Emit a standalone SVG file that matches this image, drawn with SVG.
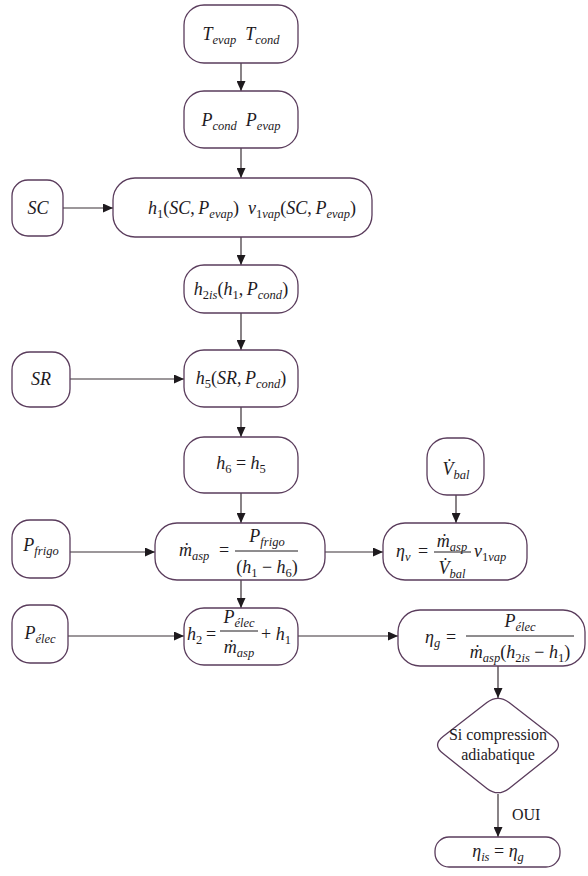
<svg xmlns="http://www.w3.org/2000/svg" width="588" height="876" viewBox="0 0 588 876">
<style>
.n{fill:#fff;stroke:#5a3c5c;stroke-width:1.3}
.t{font-family:'Liberation Serif','Times New Roman',Times,'DejaVu Serif','Noto Serif',serif;font-style:italic;font-size:18px;fill:#1e1a1e}
.s{font-size:12.5px}
.u{font-style:normal}
.r{font-family:'Liberation Serif','Times New Roman',Times,'DejaVu Serif','Noto Serif',serif;font-size:16px;fill:#1e1a1e}
.c{fill:none;stroke:#3a3036;stroke-width:1.2}
.b{stroke:#1e1a1e;stroke-width:1}
</style>
<defs>
<marker id="a" markerUnits="userSpaceOnUse" markerWidth="10" markerHeight="9" refX="10" refY="4.5" orient="auto">
<path d="M0,0 L10,4.5 L0,9 z" fill="#1e1a1e"/>
</marker>
</defs>
<rect width="588" height="876" fill="#fff"/>
<g id="connectors">
<line class="c" x1="241" y1="63" x2="241" y2="91" marker-end="url(#a)"/>
<line class="c" x1="241" y1="148" x2="241" y2="178" marker-end="url(#a)"/>
<line class="c" x1="63" y1="208" x2="113" y2="208" marker-end="url(#a)"/>
<line class="c" x1="241" y1="237" x2="241" y2="265" marker-end="url(#a)"/>
<line class="c" x1="241" y1="313" x2="241" y2="350" marker-end="url(#a)"/>
<line class="c" x1="70" y1="379" x2="184" y2="379" marker-end="url(#a)"/>
<line class="c" x1="241" y1="407" x2="241" y2="437" marker-end="url(#a)"/>
<line class="c" x1="241" y1="493" x2="241" y2="523" marker-end="url(#a)"/>
<line class="c" x1="70" y1="552" x2="155" y2="552" marker-end="url(#a)"/>
<line class="c" x1="325" y1="552" x2="383" y2="552" marker-end="url(#a)"/>
<line class="c" x1="456" y1="495" x2="456" y2="523" marker-end="url(#a)"/>
<line class="c" x1="241" y1="580" x2="241" y2="608" marker-end="url(#a)"/>
<line class="c" x1="68" y1="636" x2="184" y2="636" marker-end="url(#a)"/>
<line class="c" x1="298" y1="636" x2="398" y2="636" marker-end="url(#a)"/>
<line class="c" x1="498" y1="666" x2="498" y2="698" marker-end="url(#a)"/>
<line class="c" x1="498" y1="794" x2="498" y2="837" marker-end="url(#a)"/>
<text class="r" x="512" y="820">OUI</text>
</g>
<g id="n-temps">
<rect class="n" x="184" y="5" width="114" height="58" rx="20"/>
<text class="t" x="241" y="40" text-anchor="middle">T<tspan class="s" dy="4">evap</tspan><tspan dy="-4">&#160;&#160;T</tspan><tspan class="s" dy="4">cond</tspan></text>
</g>
<g id="n-press">
<rect class="n" x="184" y="91" width="114" height="57" rx="20"/>
<text class="t" x="241" y="126" text-anchor="middle">P<tspan class="s" dy="4">cond</tspan><tspan dy="-4">&#160;&#160;P</tspan><tspan class="s" dy="4">evap</tspan></text>
</g>
<g id="n-sc">
<rect class="n" x="12" y="180" width="51" height="56" rx="16"/>
<text class="t" x="38" y="214" text-anchor="middle">SC</text>
</g>
<g id="n-h1">
<rect class="n" x="113" y="178" width="259" height="59" rx="22"/>
<text class="t" x="252" y="214" text-anchor="middle">h<tspan class="s u" dy="4">1</tspan><tspan class="u" dy="-4">(</tspan>SC<tspan class="u">,</tspan>&#8201;P<tspan class="s" dy="4">evap</tspan><tspan class="u" dy="-4">)&#160;&#160;</tspan>v<tspan class="s" dy="4"><tspan class="u">1</tspan>vap</tspan><tspan class="u" dy="-4">(</tspan>SC<tspan class="u">,</tspan>&#8201;P<tspan class="s" dy="4">evap</tspan><tspan class="u" dy="-4">)</tspan></text>
</g>
<g id="n-h2is">
<rect class="n" x="184" y="265" width="114" height="48" rx="20"/>
<text class="t" x="241" y="295" text-anchor="middle">h<tspan class="s" dy="4"><tspan class="u">2</tspan>is</tspan><tspan class="u" dy="-4">(</tspan>h<tspan class="s u" dy="4">1</tspan><tspan class="u" dy="-4">,</tspan>&#8201;P<tspan class="s" dy="4">cond</tspan><tspan class="u" dy="-4">)</tspan></text>
</g>
<g id="n-sr">
<rect class="n" x="12" y="352" width="58" height="55" rx="18"/>
<text class="t" x="41" y="385" text-anchor="middle">SR</text>
</g>
<g id="n-h5">
<rect class="n" x="184" y="350" width="114" height="57" rx="20"/>
<text class="t" x="241" y="384" text-anchor="middle">h<tspan class="s u" dy="4">5</tspan><tspan class="u" dy="-4">(</tspan>SR<tspan class="u">,</tspan>&#8201;P<tspan class="s" dy="4">cond</tspan><tspan class="u" dy="-4">)</tspan></text>
</g>
<g id="n-h6">
<rect class="n" x="184" y="437" width="114" height="56" rx="20"/>
<text class="t" x="241" y="469" text-anchor="middle">h<tspan class="s u" dy="4">6</tspan><tspan class="u" dy="-4"> = </tspan>h<tspan class="s u" dy="4">5</tspan></text>
</g>
<g id="n-vbal">
<rect class="n" x="427" y="438" width="57" height="57" rx="20"/>
<text class="t" x="456" y="475" text-anchor="middle">V&#775;<tspan class="s" dy="4">bal</tspan></text>
</g>
<g id="n-pfrigo">
<rect class="n" x="12" y="520" width="58" height="58" rx="18"/>
<text class="t" x="41" y="551" text-anchor="middle">P<tspan class="s" dy="4">frigo</tspan></text>
</g>
<g id="n-masp">
<rect class="n" x="155" y="523" width="170" height="57" rx="22"/>
<text class="t" x="179" y="556">ṁ<tspan class="s" dy="4">asp</tspan></text>
<text class="t u" x="219" y="556">=</text>
<line class="b" x1="235" y1="551" x2="298" y2="551"/>
<text class="t" x="267" y="542" text-anchor="middle">P<tspan class="s" dy="4">frigo</tspan></text>
<text class="t" x="267" y="573" text-anchor="middle"><tspan class="u">(</tspan>h<tspan class="s u" dy="4">1</tspan><tspan class="u" dy="-4"> − </tspan>h<tspan class="s u" dy="4">6</tspan><tspan class="u" dy="-4">)</tspan></text>
</g>
<g id="n-etav">
<rect class="n" x="383" y="523" width="144" height="57" rx="22"/>
<text class="t" x="396" y="557">η<tspan class="s" dy="4">v</tspan></text>
<text class="t u" x="418" y="557">=</text>
<line class="b" x1="434" y1="552" x2="471" y2="552"/>
<text class="t" x="452" y="547" text-anchor="middle">ṁ<tspan class="s" dy="4">asp</tspan></text>
<text class="t" x="452" y="574" text-anchor="middle">V&#775;<tspan class="s" dy="4">bal</tspan></text>
<text class="t" x="474" y="557">v<tspan class="s" dy="4"><tspan class="u">1</tspan>vap</tspan></text>
</g>
<g id="n-pelec">
<rect class="n" x="12" y="605" width="56" height="58" rx="18"/>
<text class="t" x="40" y="639" text-anchor="middle">P<tspan class="s" dy="4">élec</tspan></text>
</g>
<g id="n-h2">
<rect class="n" x="184" y="608" width="114" height="57" rx="20"/>
<text class="t" x="187" y="640">h<tspan class="s u" dy="4">2</tspan></text>
<text class="t u" x="206" y="640">=</text>
<line class="b" x1="220" y1="631" x2="258" y2="631"/>
<text class="t" x="239" y="623" text-anchor="middle">P<tspan class="s" dy="4">élec</tspan></text>
<text class="t" x="239" y="653" text-anchor="middle">ṁ<tspan class="s" dy="4">asp</tspan></text>
<text class="t" x="261" y="640"><tspan class="u">+ </tspan>h<tspan class="s u" dy="4">1</tspan></text>
</g>
<g id="n-etag">
<rect class="n" x="398" y="610" width="187" height="56" rx="22"/>
<text class="t" x="425" y="643">η<tspan class="s" dy="4">g</tspan></text>
<text class="t u" x="446" y="643">=</text>
<line class="b" x1="466" y1="636" x2="574" y2="636"/>
<text class="t" x="520" y="627" text-anchor="middle">P<tspan class="s" dy="4">élec</tspan></text>
<text class="t" x="520" y="658" text-anchor="middle">ṁ<tspan class="s" dy="4">asp</tspan><tspan class="u" dy="-4">(</tspan>h<tspan class="s" dy="4"><tspan class="u">2</tspan>is</tspan><tspan class="u" dy="-4"> − </tspan>h<tspan class="s u" dy="4">1</tspan><tspan class="u" dy="-4">)</tspan></text>
</g>
<g id="n-decision">
<path class="n" d="M509.1,702.6 L552.9,736.4 Q564,745 552.9,753.6 L509.1,788.4 Q498,797 486.9,788.4 L443.1,753.6 Q432,745 443.1,736.4 L486.9,702.6 Q498,694 509.1,702.6 Z"/>
<text class="r" x="498" y="740" text-anchor="middle">Si compression</text>
<text class="r" x="498" y="760" text-anchor="middle">adiabatique</text>
</g>
<g id="n-etais">
<rect class="n" x="435" y="837" width="125" height="30" rx="14"/>
<text class="t" x="498" y="857" text-anchor="middle">η<tspan class="s" dy="4">is</tspan><tspan class="u" dy="-4"> = </tspan>η<tspan class="s" dy="4">g</tspan></text>
</g>
</svg>
